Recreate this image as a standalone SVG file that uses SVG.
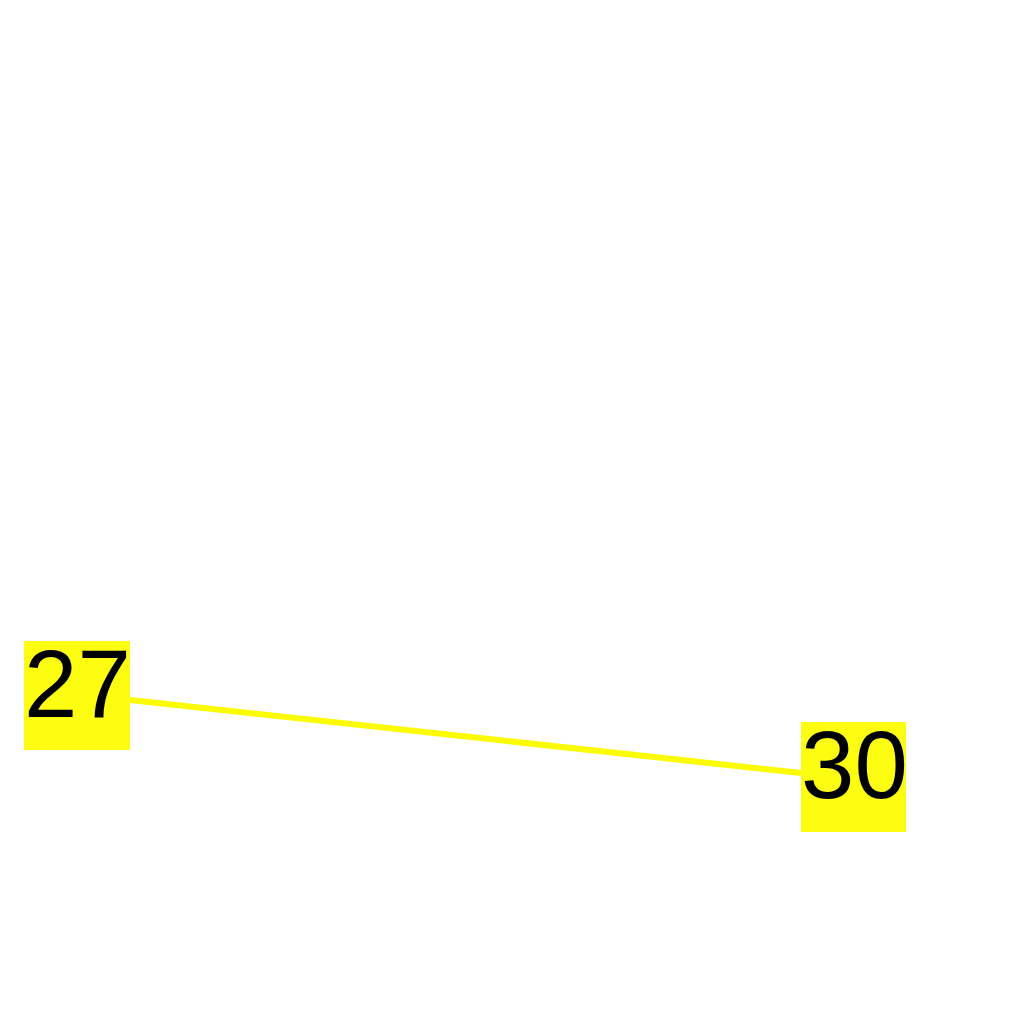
<svg xmlns="http://www.w3.org/2000/svg" width="1024" height="1024" viewBox="0 0 1024 1024">
<style>
.box{fill:#fdfd12;}
.lbl{font-family:"Liberation Sans",Arial,sans-serif;font-size:96px;fill:#000;}
.edge{stroke:#fcfc00;stroke-width:6;fill:none;}
</style>
<rect width="1024" height="1024" fill="#fff"/>
<g id="connectors">
<line class="edge" x1="130" y1="700" x2="801" y2="773"/>
</g>
<g id="node27">
<rect class="box" x="24" y="641" width="106" height="109"/>
<text class="lbl" x="24" y="717">27</text>
</g>
<g id="node30">
<rect class="box" x="801" y="722" width="105" height="110"/>
<text class="lbl" x="801" y="798">30</text>
</g>
</svg>
